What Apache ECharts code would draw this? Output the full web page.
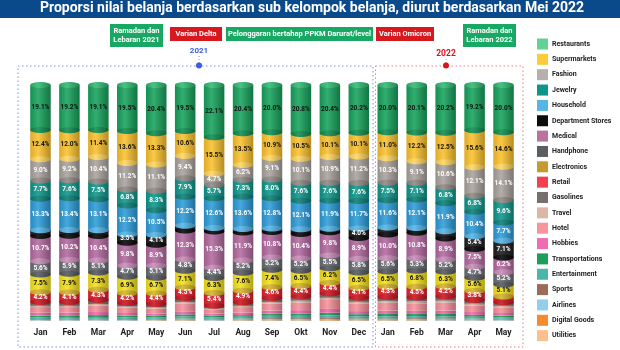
<!DOCTYPE html>
<html><head><meta charset="utf-8">
<script src="https://cdn.jsdelivr.net/npm/echarts@6/dist/echarts.min.js"></script>
<style>html,body{margin:0;padding:0;background:#fff}#c{width:620px;height:350px}</style>
</head><body><div id="c"></div>
<script>
const months = ['Jan','Feb','Mar','Apr','May','Jun','Jul','Aug','Sep','Okt','Nov','Dec','Jan','Feb','Mar','Apr','May'];
// top-to-bottom order of categories
const restaurants   = [19.1,19.2,19.1,19.5,20.4,19.5,22.1,20.4,20.0,20.8,20.4,20.2,20.0,20.1,20.2,19.2,20.0];
const supermarkets  = [12.4,12.0,11.4,13.6,13.3,10.6,15.5,13.5,10.9,10.5,10.1,10.1,11.0,12.2,12.5,15.6,14.6];
const fashion       = [9.0,9.2,10.4,11.2,11.1,9.4,4.7,6.2,9.1,10.1,10.9,11.2,10.3,9.1,10.6,12.1,14.1];
const jewelry       = [7.7,7.6,7.5,6.8,8.3,7.9,5.7,7.3,8.0,7.6,7.6,7.6,7.5,7.1,6.8,6.8,9.6];
const household     = [13.3,13.4,13.1,12.2,10.5,12.2,12.6,13.6,12.8,12.1,11.9,11.7,11.6,12.1,11.9,10.4,7.7];
const deptStores    = [2.5,2.5,2.5,3.5,4.1,2.0,1.5,1.5,1.5,2.0,1.5,4.0,3.0,2.0,3.0,5.4,7.1];
const medical       = [10.7,10.2,10.4,9.8,8.9,12.3,15.3,11.9,10.8,10.4,9.8,8.9,10.0,10.8,8.9,7.5,6.2];
const handphone     = [5.6,5.9,5.1,4.7,5.1,4.8,4.4,5.2,5.2,5.2,5.5,5.8,5.6,5.3,5.2,4.7,5.2];
const electronics   = [7.5,7.9,7.3,6.9,6.7,7.1,6.3,7.6,7.4,6.5,6.2,6.5,6.5,6.8,6.3,5.6,5.1];
const retail        = [4.2,4.1,4.3,4.2,4.4,4.5,5.4,4.9,4.6,4.4,4.4,4.1,4.3,4.5,4.2,3.8,2.5];
const gasolines     = [1.6,1.6,1.7,1.5,1.5,1.7,1.2,1.5,1.7,1.8,1.9,1.8,1.7,1.7,1.8,1.6,1.5];
const travel        = [0.5,0.5,0.6,0.5,0.5,0.7,0.3,0.5,0.6,0.8,0.9,0.8,0.8,0.8,0.8,0.7,0.6];
const hotel         = [2.4,2.3,2.8,2.2,2.0,3.2,1.8,2.3,3.0,3.2,3.8,3.1,3.3,3.2,3.4,2.8,2.4];
const hobbies       = [1.2,1.2,1.3,1.1,1.0,1.3,1.0,1.1,1.3,1.4,1.6,1.3,1.4,1.3,1.4,1.2,1.1];
const transport     = [0.7,0.7,0.8,0.7,0.6,0.9,0.6,0.7,0.9,1.0,1.1,0.9,1.0,0.9,1.0,0.8,0.7];
const entertainment = [0.8,0.8,0.8,0.8,0.7,0.9,0.7,0.8,1.0,1.0,1.1,0.9,0.9,0.9,0.9,0.8,0.7];
const sports        = [0.3,0.3,0.3,0.3,0.3,0.3,0.3,0.3,0.4,0.4,0.4,0.4,0.4,0.4,0.4,0.3,0.3];
const airlines      = [0.3,0.4,0.4,0.3,0.3,0.4,0.4,0.4,0.5,0.5,0.5,0.4,0.4,0.5,0.5,0.5,0.4];
const digitalGoods  = [0.1,0.1,0.1,0.1,0.1,0.2,0.1,0.2,0.2,0.2,0.2,0.2,0.2,0.2,0.1,0.1,0.1];
const utilities     = [0.1,0.1,0.1,0.1,0.2,0.1,0.1,0.1,0.1,0.1,0.2,0.1,0.1,0.1,0.1,0.1,0.1];

const categories = [
  {name:'Restaurants', data:restaurants, base:'#17a25c', ell:'#0e8b4e', leg:'#63d193', lab:'#111', labeled:true},
  {name:'Supermarkets', data:supermarkets, base:'#fbc22e', ell:'#ffd560', leg:'#fccb3c', lab:'#111', labeled:true},
  {name:'Fashion', data:fashion, base:'#a9a39d', ell:'#8e8883', leg:'#b5b0ab', lab:'#fff', labeled:true},
  {name:'Jewelry', data:jewelry, base:'#0f968a', ell:'#0b7d74', leg:'#0e958a', lab:'#fff', labeled:true},
  {name:'Household', data:household, base:'#2d9cd8', ell:'#55b3e5', leg:'#55b5e5', lab:'#fff', labeled:true},
  {name:'Department Stores', data:deptStores, base:'#1c1c1c', ell:'#050505', leg:'#0d0d0d', lab:'#fff', labeled:true},
  {name:'Medical', data:medical, base:'#b36aa0', ell:'#c78bb6', leg:'#b9729f', lab:'#fff', labeled:true},
  {name:'Handphone', data:handphone, base:'#686c71', ell:'#53575c', leg:'#5a5e63', lab:'#fff', labeled:true},
  {name:'Electronics', data:electronics, base:'#f5e11c', ell:'#d5b22a', leg:'#c59b31', lab:'#111', labeled:true},
  {name:'Retail', data:retail, base:'#e1202a', ell:'#c9141e', leg:'#f2404e', lab:'#fff', labeled:true},
  {name:'Gasolines', data:gasolines, base:'#787070', leg:'#776e6e'},
  {name:'Travel', data:travel, base:'#d9b4a4', leg:'#deb6a6'},
  {name:'Hotel', data:hotel, base:'#f6909a', leg:'#f8959c'},
  {name:'Hobbies', data:hobbies, base:'#ee6aac', leg:'#f06cb0'},
  {name:'Transportations', data:transport, base:'#1f9e5b', leg:'#1b9e5a'},
  {name:'Entertainment', data:entertainment, base:'#4cb5aa', leg:'#4db6ab'},
  {name:'Sports', data:sports, base:'#9c6a5a', leg:'#9d6b5c'},
  {name:'Airlines', data:airlines, base:'#8ecbe8', leg:'#92cdea'},
  {name:'Digital Goods', data:digitalGoods, base:'#f58a2c', leg:'#f68a2e'},
  {name:'Utilities', data:utilities, base:'#fbbf8a', leg:'#fbc08d'}
];

function shade(hex, p){
  const n = parseInt(hex.slice(1),16);
  let r=n>>16, g=(n>>8)&255, b=n&255;
  const t = p<0?0:255, a=Math.abs(p);
  r=Math.round((t-r)*a+r); g=Math.round((t-g)*a+g); b=Math.round((t-b)*a+b);
  return 'rgb('+r+','+g+','+b+')';
}
function hgrad(c){
  return new echarts.graphic.LinearGradient(0,0,1,0,[
    {offset:0,color:shade(c,-0.12)},{offset:0.38,color:shade(c,0.12)},{offset:1,color:shade(c,-0.28)}]);
}

const BW = 20.5, RY = 3;
const stackOrder = categories.slice().reverse();
const cum = months.map(()=>0);
const series = [];
stackOrder.forEach((cat, k) => {
  const isTop = k === stackOrder.length-1;
  const data = cat.data.map((v,j) => { const lo = cum[j]; cum[j] = +(lo+v).toFixed(3); return [j, lo, cum[j], v]; });
  const rectFill = hgrad(cat.base);
  const ellFill = cat.ell ? hgrad(cat.ell) : null;
  series.push({
    name: cat.name, type:'custom', data, encode:{x:0, y:[1,2]},
    itemStyle:{color:cat.leg}, silent:true,
    renderItem(params, api){
      const x=api.value(0), lo=api.value(1), hi=api.value(2), v=api.value(3);
      const pLo=api.coord([x,lo]), pHi=api.coord([x,hi]);
      const cx=pLo[0];
      const ch=[{type:'rect', z2:0, shape:{x:cx-BW/2, y:pHi[1], width:BW, height:pLo[1]-pHi[1]}, style:{fill:rectFill}}];
      if (ellFill && lo>0) ch.push({type:'ellipse', z2:10+k, shape:{cx, cy:pLo[1], rx:BW/2, ry:RY}, style:{fill:ellFill}});
      if (isTop) ch.push({type:'ellipse', z2:60, shape:{cx, cy:pHi[1], rx:BW/2, ry:RY}, style:{fill:hgrad('#33b872')}});
      if (cat.labeled && v>=3.5) ch.push({type:'text', z2:100, x:cx, y:(pLo[1]+pHi[1])/2,
        style:{text:v.toFixed(1)+'%', fill:cat.lab, font:'bold 6.5px Roboto', align:'center', verticalAlign:'middle'}});
      return {type:'group', children:ch};
    }
  });
});

const chart = echarts.init(document.getElementById('c'), null, {renderer:'canvas'});
chart.setOption({
  animation:false,
  grid:{left:26, right:102, top:85, bottom:29},
  xAxis:{type:'category', data:months, axisLine:{show:false}, axisTick:{show:false},
    axisLabel:{color:'#222', fontSize:8.5, fontWeight:'bold', fontFamily:'Roboto', margin:7, interval:0}},
  yAxis:{type:'value', min:0, max:100, show:false},
  legend:{orient:'vertical', left:537, top:38.5, itemWidth:11, itemHeight:11, itemGap:4.35, padding:0,
    selectedMode:false, icon:'rect',
    textStyle:{fontSize:7, fontWeight:'bold', color:'#222', fontFamily:'Roboto', padding:[0,0,0,-1]},
    data: categories.map(c=>({name:c.name, itemStyle:{color:c.leg}}))},
  graphic:[
    {type:'rect', shape:{x:0,y:0,width:620,height:18}, style:{fill:'#0b4a8a'}},
    {type:'text', x:312, y:8.5, style:{text:'Proporsi nilai belanja berdasarkan sub kelompok belanja, diurut berdasarkan Mei 2022', fill:'#fff', font:'bold 14px Roboto', align:'center', verticalAlign:'middle'}},
    {type:'rect', shape:{x:110,y:24,width:53,height:23}, style:{fill:'#19a863'}},
    {type:'text', x:136.5, y:35.5, style:{text:'Ramadan dan\nLebaran 2021', fill:'#fff', font:'bold 7.5px Roboto', align:'center', verticalAlign:'middle', lineHeight:9.5}},
    {type:'rect', shape:{x:170,y:27,width:52,height:14}, style:{fill:'#d8181f'}},
    {type:'text', x:196, y:34, style:{text:'Varian Delta', fill:'#fff', font:'bold 7.5px Roboto', align:'center', verticalAlign:'middle'}},
    {type:'rect', shape:{x:226,y:27,width:147,height:14}, style:{fill:'#19a863'}},
    {type:'text', x:299.5, y:34, style:{text:'Pelonggaran bertahap PPKM Darurat/level', fill:'#fff', font:'bold 7.5px Roboto', align:'center', verticalAlign:'middle'}},
    {type:'rect', shape:{x:376,y:27,width:58,height:14}, style:{fill:'#d8181f'}},
    {type:'text', x:405, y:34, style:{text:'Varian Omicron', fill:'#fff', font:'bold 7.5px Roboto', align:'center', verticalAlign:'middle'}},
    {type:'rect', shape:{x:463,y:24,width:53,height:23}, style:{fill:'#19a863'}},
    {type:'text', x:489.5, y:35.5, style:{text:'Ramadan dan\nLebaran 2022', fill:'#fff', font:'bold 7.5px Roboto', align:'center', verticalAlign:'middle', lineHeight:9.5}},
    {type:'rect', shape:{x:18,y:66,width:355,height:281}, style:{fill:'none', stroke:'#7d8fe0', lineWidth:1, lineDash:[1.5,2.5]}},
    {type:'rect', shape:{x:375.5,y:66,width:147.5,height:281}, style:{fill:'none', stroke:'#ee7f87', lineWidth:1, lineDash:[1.5,2.5]}},
    {type:'line', shape:{x1:199,y1:56,x2:199,y2:63}, style:{stroke:'#7d8fe0', lineWidth:1, lineDash:[1,2]}},
    {type:'line', shape:{x1:446,y1:59,x2:446,y2:63}, style:{stroke:'#ee7f87', lineWidth:1, lineDash:[1,2]}},
    {type:'circle', shape:{cx:199,cy:65.5,r:3}, style:{fill:'#3d5ce0'}},
    {type:'circle', shape:{cx:446,cy:65.5,r:3}, style:{fill:'#d8141e'}},
    {type:'text', x:199, y:51, style:{text:'2021', fill:'#3d5ce0', font:'bold 8px Roboto', align:'center', verticalAlign:'middle'}},
    {type:'text', x:446, y:53.5, style:{text:'2022', fill:'#d8141e', font:'bold 8.5px Roboto', align:'center', verticalAlign:'middle'}}
  ],
  series
});
</script></body></html>
